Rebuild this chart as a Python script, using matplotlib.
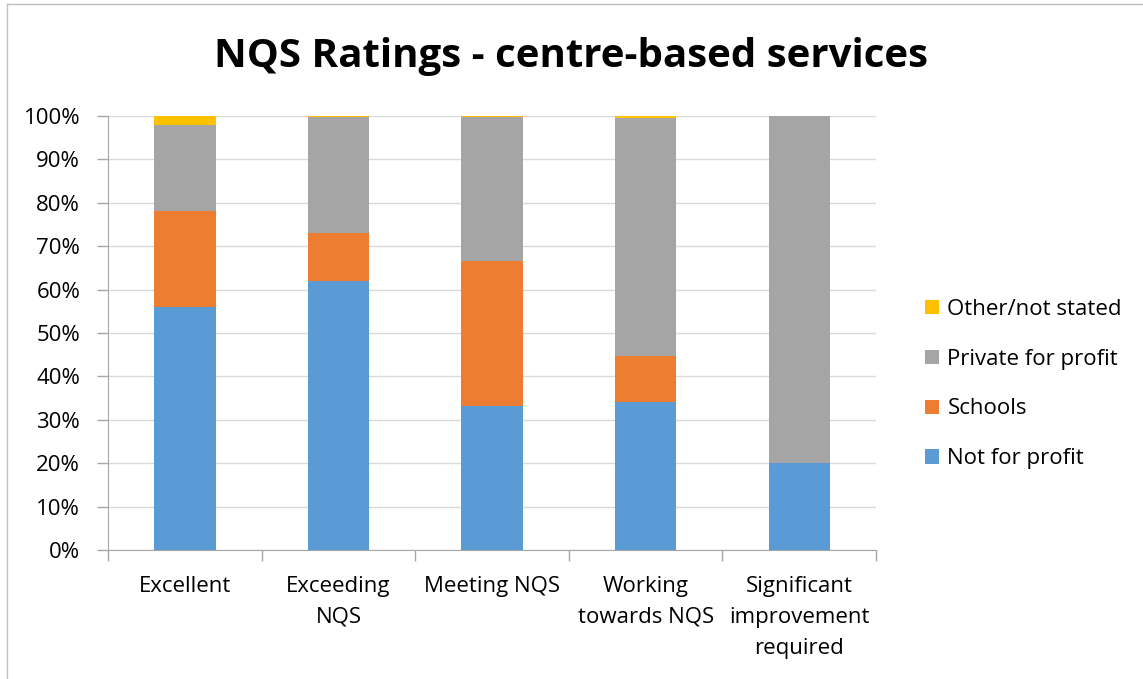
import matplotlib
matplotlib.use('Agg')
import matplotlib.pyplot as plt
import numpy as np

# Catégories et valeurs (en %)
categories = ["Excellent", "Exceeding\nNQS", "Meeting NQS", "Working\ntowards NQS", "Significant\nimprovement\nrequired"]
not_for_profit = [56.0, 62.0, 33.2, 34.1, 20.0]
schools = [22.1, 11.0, 33.4, 10.6, 0.0]
private_for_profit = [19.8, 26.7, 33.1, 54.8, 80.0]
other_not_stated = [2.1, 0.3, 0.3, 0.5, 0.0]

series = [
    ("Not for profit", not_for_profit, "#5B9BD5"),
    ("Schools", schools, "#ED7D31"),
    ("Private for profit", private_for_profit, "#A5A5A5"),
    ("Other/not stated", other_not_stated, "#FFC000"),
]

plt.rcParams['font.family'] = ['Open Sans', 'DejaVu Sans']
axis_gray = "#A6A6A6"

fig = plt.figure(figsize=(11.43, 6.79), dpi=100)
ax = fig.add_axes([0.0945, 0.19, 0.672, 0.639])

x = np.arange(len(categories))
bottom = np.zeros(len(categories))
handles = []
for label, vals, color in series:
    b = ax.bar(x, vals, width=0.4, bottom=bottom, color=color, label=label, zorder=3)
    handles.append(b)
    bottom += np.array(vals)

ax.set_xlim(-0.5, len(categories) - 0.5)
ax.set_ylim(0, 100)
ax.set_yticks(np.arange(0, 101, 10))
ax.set_yticklabels([f"{v}%" for v in range(0, 101, 10)], fontsize=16)
ax.yaxis.grid(True, color="#D9D9D9", linewidth=1, zorder=0)
ax.tick_params(axis='y', length=8, color=axis_gray, width=1, pad=12)

# ticks entre les catégories
ax.set_xticks(np.arange(-0.5, len(categories), 1.0))
ax.set_xticklabels([])
ax.set_xticks(x, minor=True)
ax.set_xticklabels(categories, minor=True, fontsize=16, linespacing=1.6)
ax.tick_params(axis='x', which='major', length=8, color=axis_gray, width=1)
ax.tick_params(axis='x', which='minor', length=0, pad=19)

for s in ['top', 'right']:
    ax.spines[s].set_visible(False)
ax.spines['bottom'].set_color(axis_gray)
ax.spines['left'].set_color(axis_gray)

fig.suptitle("NQS Ratings - centre-based services", fontsize=29, fontweight='bold', y=0.945)

leg = fig.legend(handles[::-1], [s[0] for s in series[::-1]], loc='center left',
                 bbox_to_anchor=(0.792, 0.4345), frameon=False, fontsize=16,
                 handlelength=0.6, handleheight=0.6, labelspacing=1.3, handletextpad=0.4)

# cadre du graphique
fig.add_artist(plt.Line2D([0.006, 0.006], [0, 0.994], color="#BFBFBF", lw=1, transform=fig.transFigure))
fig.add_artist(plt.Line2D([0.006, 1], [0.994, 0.994], color="#BFBFBF", lw=1, transform=fig.transFigure))

plt.savefig("out.png", dpi=100)
plt.close()
